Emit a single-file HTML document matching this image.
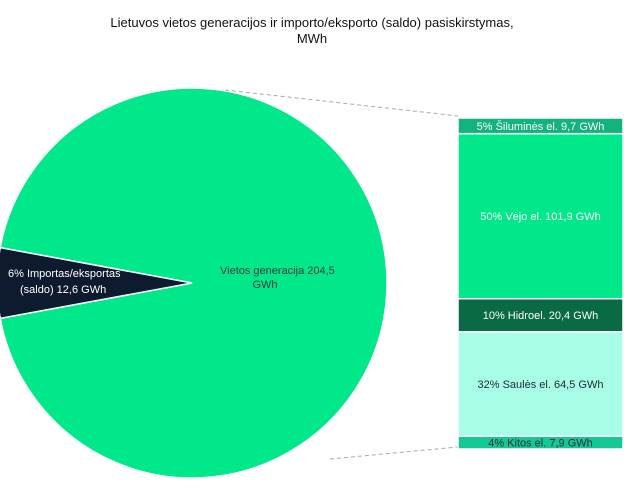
<!DOCTYPE html>
<html><head><meta charset="utf-8"><style>
body{margin:0;background:#fff;width:624px;height:485px;overflow:hidden;font-family:"Liberation Sans",sans-serif}
</style></head><body>
<svg id="chart" width="624" height="485" xmlns="http://www.w3.org/2000/svg">
<text x="312" y="27" text-anchor="middle" font-size="13" fill="#111">Lietuvos vietos generacijos ir importo/eksporto (saldo) pasiskirstymas,</text>
<text x="312" y="43" text-anchor="middle" font-size="13" fill="#111">MWh</text>
<g id="pie"></g><g id="bar"></g>
</svg>
<script>
const pieLabels=["Vietos generacija","Importas/eksportas (saldo)"];
const pieValues=[204.5,12.6];
const barLabels=["Šiluminės el.","Vėjo el.","Hidroel.","Saulės el.","Kitos el."];
const barValues=[9.7,101.9,20.4,64.5,7.9];
const barPct=["5%","50%","10%","32%","4%"];
const barColors=["#13b47c","#00e88a","#0a6a44","#a8fde6","#13c894"];
const barText=["#fff","#fff","#fff","#1b2a3a","#1b2a3a"];
const NS="http://www.w3.org/2000/svg";
const svg=document.getElementById('chart');
function mk(t,a,p){const e=document.createElementNS(NS,t);for(const k in a)e.setAttribute(k,a[k]);(p||svg).appendChild(e);return e;}
const cx=192,cy=283,r=195;
const total=pieValues[0]+pieValues[1];
const half=Math.PI*pieValues[1]/total;
const pg=document.getElementById('pie');
// main slice
const a1=Math.PI-half,a2=Math.PI+half;
const p=(a)=>[cx+r*Math.cos(a),cy-r*Math.sin(a)];
let s1=p(a1),s2=p(a2);
const big=mk('path',{d:`M${cx},${cy}L${s2[0]},${s2[1]}A${r},${r} 0 1 0 ${s1[0]},${s1[1]}Z`,fill:'#00e88a',stroke:'#fff','stroke-width':1.5},pg);


const sm=mk('path',{d:`M${cx},${cy}L${s1[0]},${s1[1]}A${r},${r} 0 0 0 ${s2[0]},${s2[1]}Z`,fill:'#0e1a2e',stroke:'#fff','stroke-width':1.5},pg);


let t=mk('text',{x:220,y:274,'font-size':11,fill:'#163a40'},pg);t.textContent=pieLabels[0]+"   "+pieValues[0].toFixed(1).replace('.',',');

t=mk('text',{x:265,y:288,'font-size':11,'text-anchor':'middle',fill:'#163a40'},pg);t.textContent="GWh";

const pct=Math.round(pieValues[1]/total*100)+"%";
t=mk('text',{x:8,y:277,'font-size':11,fill:'#fff'},pg);t.textContent=pct+" Importas/eksportas";

t=mk('text',{x:20,y:293,'font-size':11,fill:'#fff'},pg);t.textContent="(saldo)  "+pieValues[1].toFixed(1).replace('.',',')+" GWh";

// bar
const bx=458,bw=165,by0=118,by1=449;
const btot=barValues.reduce((a,b)=>a+b,0);
const ys=v=>v/btot*(by1-by0);
const bg=document.getElementById('bar');
let l=mk('line',{x1:225,y1:90,x2:bx,y2:by0-2,stroke:'#aaa','stroke-dasharray':'4,3'},bg);

l=mk('line',{x1:330,y1:459,x2:bx,y2:by1-2,stroke:'#aaa','stroke-dasharray':'4,3'},bg);

let y=by0;
barValues.forEach((v,i)=>{
 const h=ys(v);
 const rc=mk('rect',{x:bx,y:y,width:bw,height:h,fill:barColors[i],stroke:'#fff','stroke-width':1.5},bg);
 
 
 const tx=mk('text',{x:bx+bw/2,y:y+h/2+4,'font-size':11,'text-anchor':'middle',fill:barText[i]},bg);
 tx.textContent=barPct[i]+" "+barLabels[i]+"  "+v.toFixed(1).replace('.',',')+" GWh";
 
 
 y+=h;
});
</script>
</body></html>
